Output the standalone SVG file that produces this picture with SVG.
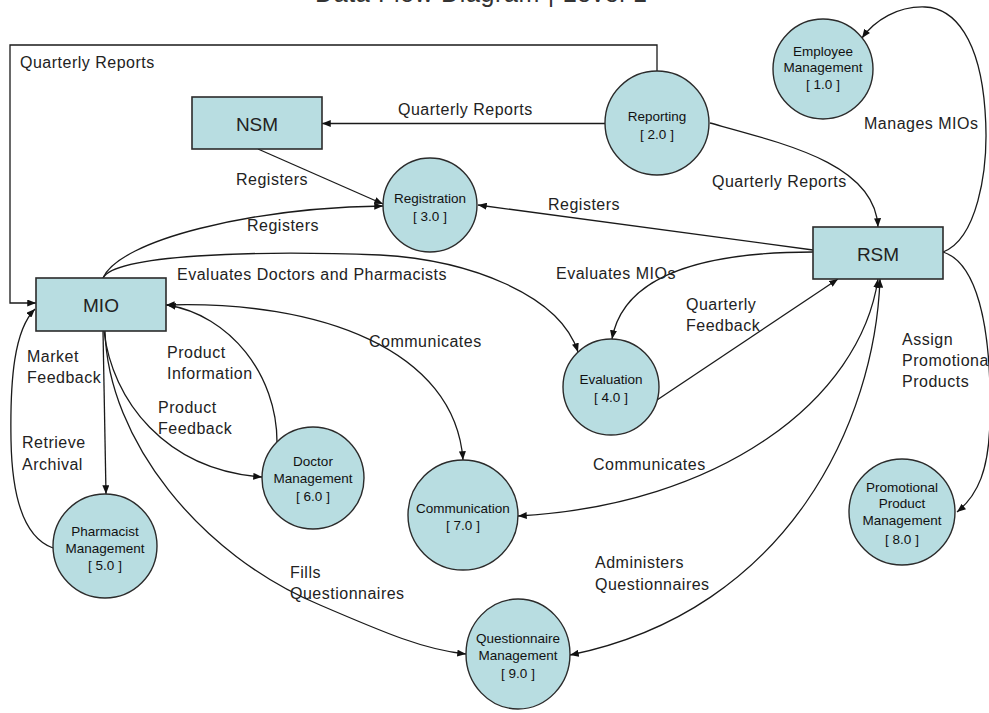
<svg xmlns="http://www.w3.org/2000/svg" width="989" height="713" viewBox="0 0 989 713">
  <style>
    .proc { fill: #b8dde1; stroke: #2b2b2b; stroke-width: 1.4; }
    .ent { fill: #b8dde1; stroke: #2b2b2b; stroke-width: 1.6; }
    .ptxt { font-family: "Liberation Sans", Arial, sans-serif; font-size: 13.5px; fill: #111; text-anchor: middle; }
    .etxt { font-family: "Liberation Sans", Arial, sans-serif; font-size: 19px; fill: #222; text-anchor: middle; }
    .lbl { font-family: "Liberation Sans", Arial, sans-serif; font-size: 16px; letter-spacing: 0.5px; fill: #222; }
    .title { font-family: "Liberation Sans", Arial, sans-serif; font-size: 25px; fill: #333; }
    .flow { fill: none; stroke: #1a1a1a; stroke-width: 1.3; }
    .one { marker-end: url(#arrow); }
    .two { marker-start: url(#arrow); marker-end: url(#arrow); }
  </style>
  <defs>
    <marker id="arrow" viewBox="0 0 10 8" refX="10" refY="4" markerWidth="9" markerHeight="7" markerUnits="userSpaceOnUse" orient="auto-start-reverse">
      <path d="M0,0 L10,4 L0,8 z" fill="#111"/>
    </marker>
  </defs>

  <rect width="989" height="713" fill="#ffffff"/>

  <!-- heading, mostly above the top edge -->
  <text class="title" x="315" y="2" textLength="332" lengthAdjust="spacing">Data Flow Diagram | Level 1</text>

  <!-- data flows -->
  <g id="connectors">
    <!-- Reporting -> MIO -->
    <path class="flow one" d="M657,71 V45 H10 V303 H36"/>
    <!-- Reporting -> NSM -->
    <path class="flow one" d="M605,123.5 H322"/>
    <!-- Reporting -> RSM -->
    <path class="flow one" d="M710,123 C790,145 875,165 878,227"/>
    <!-- RSM -> Employee Management -->
    <path class="flow one" d="M943,252 C975,240 990,175 985,110 C980,40 955,8 925,7 C898,6 875,20 862,38"/>
    <!-- NSM -> Registration -->
    <path class="flow one" d="M258,149 L383,204"/>
    <!-- MIO -> Registration -->
    <path class="flow one" d="M103,278 C120,240 250,208 383,206"/>
    <!-- RSM -> Registration -->
    <path class="flow one" d="M813,250 L478,205"/>
    <!-- MIO -> Evaluation -->
    <path class="flow one" d="M103,278 C115,255 250,250 380,255 C470,260 560,295 578,352"/>
    <!-- RSM -> Evaluation -->
    <path class="flow one" d="M813,252 C730,252 625,265 612,339"/>
    <!-- Evaluation -> RSM -->
    <path class="flow one" d="M657,400 L838,279"/>
    <!-- MIO <-> Communication -->
    <path class="flow two" d="M166,305 C320,300 455,350 463,460"/>
    <!-- RSM <-> Communication -->
    <path class="flow two" d="M878,279 C860,400 720,505 518,516"/>
    <!-- RSM <-> Questionnaire Management -->
    <path class="flow two" d="M880,279 C875,420 790,610 570,655"/>
    <!-- RSM -> Promotional Product Management -->
    <path class="flow one" d="M943,252 C975,262 992,320 990,420 C989,470 978,495 957,512"/>
    <!-- MIO -> Pharmacist Management -->
    <path class="flow one" d="M103,331 L106,494"/>
    <!-- Pharmacist Management -> MIO -->
    <path class="flow one" d="M53,548 C25,538 12,500 11,440 C10,380 14,330 35,309"/>
    <!-- MIO -> Doctor Management -->
    <path class="flow one" d="M104,331 C112,400 165,470 262,477"/>
    <!-- Doctor Management -> MIO -->
    <path class="flow one" d="M277,442 C277,375 230,315 167,305"/>
    <!-- MIO -> Questionnaire Management -->
    <path class="flow one" d="M105,331 C108,440 200,555 320,605 C385,633 425,650 466,654"/>
  </g>

  <!-- flow labels -->
  <g id="flow-labels">
    <text class="lbl" x="20" y="68">Quarterly Reports</text>
    <text class="lbl" x="398" y="115">Quarterly Reports</text>
    <text class="lbl" x="712" y="187">Quarterly Reports</text>
    <text class="lbl" x="864" y="129">Manages MIOs</text>
    <text class="lbl" x="236" y="185">Registers</text>
    <text class="lbl" x="247" y="231">Registers</text>
    <text class="lbl" x="548" y="210">Registers</text>
    <text class="lbl" x="177" y="280">Evaluates Doctors and Pharmacists</text>
    <text class="lbl" x="556" y="279">Evaluates MIOs</text>
    <text class="lbl" x="686" y="310">Quarterly</text>
    <text class="lbl" x="686" y="331">Feedback</text>
    <text class="lbl" x="369" y="347">Communicates</text>
    <text class="lbl" x="27" y="362">Market</text>
    <text class="lbl" x="27" y="383">Feedback</text>
    <text class="lbl" x="167" y="358">Product</text>
    <text class="lbl" x="167" y="379">Information</text>
    <text class="lbl" x="158" y="413">Product</text>
    <text class="lbl" x="158" y="434">Feedback</text>
    <text class="lbl" x="22" y="448">Retrieve</text>
    <text class="lbl" x="22" y="470">Archival</text>
    <text class="lbl" x="593" y="470">Communicates</text>
    <text class="lbl" x="902" y="345">Assign</text>
    <text class="lbl" x="902" y="366">Promotiona</text>
    <text class="lbl" x="902" y="387">Products</text>
    <text class="lbl" x="290" y="578">Fills</text>
    <text class="lbl" x="290" y="599">Questionnaires</text>
    <text class="lbl" x="595" y="568">Administers</text>
    <text class="lbl" x="595" y="590">Questionnaires</text>
  </g>

  <!-- external entities -->
  <g id="nsm">
    <rect class="ent" x="192" y="97" width="130" height="52"/>
    <text class="etxt" x="257" y="131">NSM</text>
  </g>
  <g id="mio">
    <rect class="ent" x="36" y="278" width="130" height="53"/>
    <text class="etxt" x="101" y="312">MIO</text>
  </g>
  <g id="rsm">
    <rect class="ent" x="813" y="227" width="130" height="52"/>
    <text class="etxt" x="878" y="261">RSM</text>
  </g>

  <!-- processes -->
  <g id="p1-employee-management">
    <circle class="proc" cx="823" cy="69" r="50"/>
    <text class="ptxt" x="823" y="56">Employee</text>
    <text class="ptxt" x="823" y="72">Management</text>
    <text class="ptxt" x="823" y="89">[ 1.0 ]</text>
  </g>
  <g id="p2-reporting">
    <circle class="proc" cx="657" cy="123" r="52"/>
    <text class="ptxt" x="657" y="121">Reporting</text>
    <text class="ptxt" x="657" y="139">[ 2.0 ]</text>
  </g>
  <g id="p3-registration">
    <circle class="proc" cx="430" cy="205" r="47"/>
    <text class="ptxt" x="430" y="203">Registration</text>
    <text class="ptxt" x="430" y="221">[ 3.0 ]</text>
  </g>
  <g id="p4-evaluation">
    <circle class="proc" cx="611" cy="387" r="48"/>
    <text class="ptxt" x="611" y="384">Evaluation</text>
    <text class="ptxt" x="611" y="402">[ 4.0 ]</text>
  </g>
  <g id="p5-pharmacist-management">
    <circle class="proc" cx="105" cy="546" r="52"/>
    <text class="ptxt" x="105" y="536">Pharmacist</text>
    <text class="ptxt" x="105" y="553">Management</text>
    <text class="ptxt" x="105" y="570">[ 5.0 ]</text>
  </g>
  <g id="p6-doctor-management">
    <circle class="proc" cx="313" cy="478" r="51"/>
    <text class="ptxt" x="313" y="466">Doctor</text>
    <text class="ptxt" x="313" y="483">Management</text>
    <text class="ptxt" x="313" y="501">[ 6.0 ]</text>
  </g>
  <g id="p7-communication">
    <circle class="proc" cx="463" cy="515" r="55"/>
    <text class="ptxt" x="463" y="513">Communication</text>
    <text class="ptxt" x="463" y="530">[ 7.0 ]</text>
  </g>
  <g id="p8-promotional-product-management">
    <circle class="proc" cx="902" cy="512" r="53"/>
    <text class="ptxt" x="902" y="492">Promotional</text>
    <text class="ptxt" x="902" y="508">Product</text>
    <text class="ptxt" x="902" y="525">Management</text>
    <text class="ptxt" x="902" y="544">[ 8.0 ]</text>
  </g>
  <g id="p9-questionnaire-management">
    <ellipse class="proc" cx="518" cy="654" rx="52" ry="55"/>
    <text class="ptxt" x="518" y="643">Questionnaire</text>
    <text class="ptxt" x="518" y="660">Management</text>
    <text class="ptxt" x="518" y="678">[ 9.0 ]</text>
  </g>
</svg>
